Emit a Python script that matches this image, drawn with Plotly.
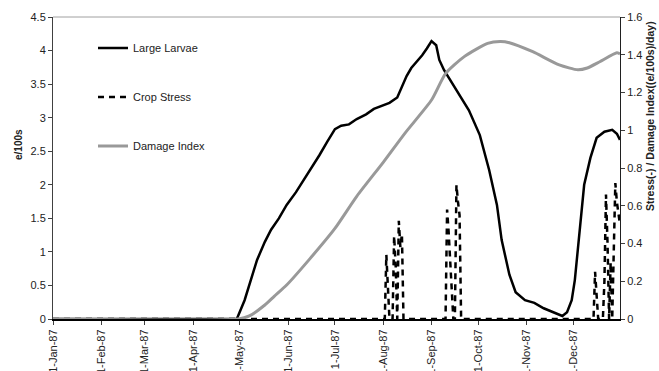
import plotly.graph_objects as go

# ---- data ----
larvae_dates = ["1987-01-01","1987-04-29","1987-05-04","1987-05-07","1987-05-12","1987-05-17","1987-05-21",
                "1987-05-26","1987-05-31","1987-06-06","1987-06-11","1987-06-16","1987-06-21","1987-06-26",
                "1987-07-01","1987-07-05","1987-07-10","1987-07-15","1987-07-21","1987-07-26","1987-07-31",
                "1987-08-05","1987-08-10","1987-08-13","1987-08-16","1987-08-19","1987-08-23","1987-08-26",
                "1987-08-29","1987-09-01","1987-09-04","1987-09-06","1987-09-09","1987-09-14","1987-09-20",
                "1987-09-25","1987-10-02","1987-10-08","1987-10-13","1987-10-16","1987-10-21","1987-10-25",
                "1987-10-31","1987-11-06","1987-11-12","1987-11-19","1987-11-24","1987-11-27","1987-11-30",
                "1987-12-02","1987-12-05","1987-12-08","1987-12-12","1987-12-16","1987-12-21","1987-12-26",
                "1987-12-29","1987-12-31"]
larvae_values = [0,0,0.28,0.5,0.88,1.15,1.33,
                 1.5,1.70,1.89,2.07,2.25,2.44,2.64,
                 2.83,2.88,2.90,2.98,3.05,3.13,3.18,
                 3.22,3.30,3.46,3.62,3.74,3.85,3.93,
                 4.03,4.14,4.08,3.86,3.71,3.52,3.31,
                 3.11,2.74,2.22,1.70,1.18,0.66,0.40,
                 0.28,0.24,0.16,0.09,0.045,0.10,0.28,
                 0.58,1.24,2.0,2.4,2.7,2.79,2.82,
                 2.76,2.67]

stress_dates = ["1987-01-01","1987-08-02","1987-08-03","1987-08-04","1987-08-05","1987-08-07","1987-08-08",
                "1987-08-09","1987-08-10","1987-08-11","1987-08-12","1987-08-13","1987-08-14",
                "1987-09-10","1987-09-11","1987-09-12","1987-09-13","1987-09-14","1987-09-15","1987-09-16",
                "1987-09-17","1987-09-18","1987-09-19","1987-09-20",
                "1987-12-14","1987-12-15","1987-12-16","1987-12-17","1987-12-20","1987-12-21","1987-12-22",
                "1987-12-23","1987-12-24","1987-12-25","1987-12-26","1987-12-27","1987-12-28","1987-12-29",
                "1987-12-30","1987-12-31"]
stress_values = [0,0,0.34,0.12,0,0,0.44,
                 0.28,0,0.52,0.38,0.45,0,
                 0,0.58,0.46,0.32,0.15,0,0,
                 0.71,0.62,0.55,0,
                 0,0.25,0.1,0,0,0.2,0.66,
                 0.4,0,0.3,0,0.45,0.72,0.62,
                 0.55,0.5]

damage_dates = ["1987-01-01","1987-04-30","1987-05-07","1987-05-17","1987-05-23","1987-05-31","1987-06-15",
                "1987-07-01","1987-07-15","1987-08-01","1987-08-15","1987-09-01","1987-09-10","1987-09-22",
                "1987-10-07","1987-10-15","1987-10-21","1987-11-05","1987-11-22","1987-12-04","1987-12-10",
                "1987-12-18","1987-12-29","1987-12-31"]
damage_values = [0,0,0.016,0.074,0.12,0.18,0.32,
                 0.48,0.65,0.83,0.985,1.16,1.30,1.39,
                 1.46,1.47,1.464,1.416,1.346,1.32,1.33,
                 1.363,1.41,1.405]

tick_dates = ["1987-01-01","1987-02-01","1987-03-01","1987-04-01","1987-05-01","1987-06-01",
              "1987-07-01","1987-08-01","1987-09-01","1987-10-01","1987-11-01","1987-12-01"]
tick_labels = ["1-Jan-87","1-Feb-87","1-Mar-87","1-Apr-87","1-May-87","1-Jun-87",
               "1-Jul-87","1-Aug-87","1-Sep-87","1-Oct-87","1-Nov-87","1-Dec-87"]

FONT = "Liberation Sans, Arial, sans-serif"
TXT = "#222222"

fig = go.Figure()
fig.add_trace(go.Scatter(x=larvae_dates, y=larvae_values, mode="lines", name="Large Larvae",
                         line=dict(color="black", width=2.5), legend="legend"))
fig.add_trace(go.Scatter(x=stress_dates, y=stress_values, mode="lines", name="Crop Stress", yaxis="y2",
                         line=dict(color="black", width=2.5, dash="6px,5px"), legend="legend2"))
fig.add_trace(go.Scatter(x=damage_dates, y=damage_values, mode="lines", name="Damage Index", yaxis="y2",
                         line=dict(color="#999999", width=3, shape="spline", smoothing=0.6), legend="legend3"))

W, H = 659, 371
L, R, T, B = 53, 39, 17, 52
pw = W - L - R
ph = H - T - B

def px_x(x):
    return (x - L) / pw

def px_y(y):
    return (H - B - y) / ph

leg_common = dict(bgcolor="rgba(0,0,0,0)", borderwidth=0, font=dict(family=FONT, size=11, color=TXT),
                  xanchor="left", yanchor="middle", itemwidth=30)

fig.update_layout(
    width=W, height=H,
    margin=dict(l=L, r=R, t=T, b=B, autoexpand=False),
    paper_bgcolor="white", plot_bgcolor="white",
    font=dict(family=FONT, size=11, color=TXT),
    showlegend=True,
    legend=dict(x=px_x(93), y=px_y(48), **leg_common),
    legend2=dict(x=px_x(93), y=px_y(97), **leg_common),
    legend3=dict(x=px_x(93), y=px_y(146), **leg_common),
    xaxis=dict(type="date", range=["1987-01-01", "1987-12-31"], tickvals=tick_dates, ticktext=tick_labels,
               tickangle=-90, ticks="outside", ticklen=4, tickcolor="#404040", showgrid=False, zeroline=False,
               showline=True, linecolor="black", linewidth=2, mirror=False,
               tickfont=dict(family=FONT, size=11, color=TXT), automargin=False),
    yaxis=dict(range=[0, 4.5], dtick=0.5, ticks="outside", ticklen=4, tickcolor="#404040",
               showgrid=False, zeroline=False, showline=True, linecolor="#404040", linewidth=1,
               tickfont=dict(family=FONT, size=11, color=TXT), automargin=False),
    yaxis2=dict(range=[0, 1.6], dtick=0.2, overlaying="y", side="right", ticks="outside", ticklen=4,
                tickcolor="#404040", showgrid=False, zeroline=False, showline=True, linecolor="#202020",
                linewidth=1, tickfont=dict(family=FONT, size=11, color=TXT), automargin=False),
    shapes=[dict(type="line", xref="paper", yref="paper", x0=0, x1=1, y0=1, y1=1,
                 line=dict(color="#a0a0a0", width=1), layer="below")],
    annotations=[
        dict(text="<b>e/100s</b>", x=px_x(18), y=px_y(145), xref="paper", yref="paper", showarrow=False,
             textangle=-90, font=dict(family=FONT, size=10, color=TXT), xanchor="center", yanchor="middle"),
        dict(text="<b>Stress(-) / Damage Index((e/100s)/day)</b>", x=px_x(650), y=px_y(116), xref="paper",
             yref="paper", showarrow=False, textangle=-90, font=dict(family=FONT, size=10.5, color=TXT),
             xanchor="center", yanchor="middle"),
    ],
)

fig.write_html("out.html")
